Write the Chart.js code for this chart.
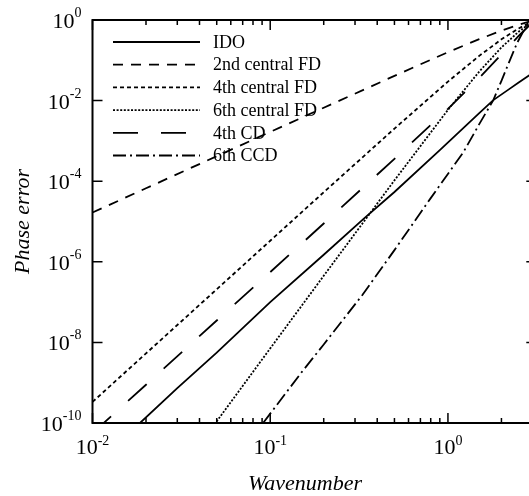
<!DOCTYPE html>
<html>
<head>
<meta charset="utf-8">
<script src="https://cdn.jsdelivr.net/npm/chart.js@4/dist/chart.umd.min.js"></script>
<style>
  html, body { margin: 0; padding: 0; background: #fff; overflow: hidden; }
  #wrap { width: 529px; height: 496px; overflow: hidden; position: relative; }
  canvas { position: absolute; left: 0; top: 0; }
</style>
</head>
<body>
<div id="wrap"><canvas id="chart" width="538" height="496"></canvas></div>
<script>
// wavenumbers for the central FD / compact schemes
var kFD = [0.01, 0.02, 0.05, 0.1, 0.2, 0.5, 1, 1.5, 2, 2.5, 2.8, 3, 3.1416]
var errFD2 = [1.67e-5, 6.67e-5, 4.17e-4, 1.67e-3, 6.65e-3, 4.11e-2, 0.159, 0.335, 0.545, 0.761, 0.880, 0.953, 1.0]
var errFD4 = [3.33e-10, 5.33e-9, 2.08e-7, 3.33e-6, 5.32e-5, 2.02e-3, 2.96e-2, 0.129, 0.331, 0.617, 0.803, 0.922, 1.0]
var errCD4 = [5.6e-11, 8.9e-10, 3.5e-8, 5.55e-7, 8.9e-6, 3.58e-4, 6.25e-3, 3.66e-2, 0.139, 0.401, 0.661, 0.860, 1.0]

var kFD6 = [0.04, 0.05, 0.1, 0.2, 0.5, 1, 1.5, 2, 2.5, 2.8, 3, 3.1416]
var errFD6 = [2.9e-11, 1.1e-10, 7.1e-9, 4.5e-7, 1.05e-4, 5.9e-3, 5.25e-2, 0.209, 0.513, 0.743, 0.897, 1.0]

var kIDO = [0.0185, 0.03, 0.05, 0.1, 0.2, 0.34, 0.5, 0.9, 1.5, 1.8, 2.2, 2.5, 2.83, 3.1416]
var errIDO = [1.0e-10, 7.3e-10, 5.6e-9, 1.0e-7, 1.5e-6, 1.23e-5, 5.4e-5, 5.9e-4, 4.9e-3, 1.03e-2, 1.9e-2, 2.8e-2, 4.1e-2, 5.6e-2]

var kCCD = [0.0912, 0.15, 0.2, 0.33, 0.5, 0.8, 1.22, 1.5, 1.8, 2.0, 2.23, 2.45, 2.83, 3.1416]
var errCCD = [1e-10, 1.8e-9, 8.9e-9, 1.5e-7, 1.95e-6, 3.8e-5, 5.2e-4, 2.6e-3, 1.03e-2, 3.1e-2, 0.10, 0.27, 0.89, 1.0]

var xTickLabels = [[0.01, "-2"], [0.1, "-1"], [1, "0"]]
var yTickLabels = [[1, "0"], [1e-2, "-2"], [1e-4, "-4"], [1e-6, "-6"], [1e-8, "-8"], [1e-10, "-10"]]

function pts(xs, ys) {
    return xs.map((x, i) => ({ x: x, y: ys[i] }))
}

function series(label, xs, ys, dash) {
    return {
        label: label,
        data: pts(xs, ys),
        showLine: true,
        borderColor: "#000",
        borderWidth: 1.8,
        borderDash: dash,
        pointRadius: 0,
        fill: false,
        tension: 0,
        clip: 0
    }
}

const SERIF = "'Liberation Serif', 'DejaVu Serif', serif"

// frame, inward ticks, superscript labels, legend, axis titles
const decorations = {
    id: "decorations",
    afterDraw(chart) {
        const ctx = chart.ctx
        const a = chart.chartArea
        const xs = chart.scales.x, ys = chart.scales.y
        ctx.save()
        ctx.strokeStyle = "#000"
        ctx.fillStyle = "#000"
        ctx.setLineDash([])
        ctx.lineWidth = 2
        ctx.strokeRect(a.left, a.top, a.right - a.left, a.bottom - a.top)

        // x ticks (top and bottom)
        ctx.lineWidth = 1.5
        for (let d = -2; d <= 0; d++) {
            for (let m = 1; m <= 9; m++) {
                const v = m * Math.pow(10, d)
                if (v > xs.max) continue
                const px = xs.getPixelForValue(v)
                const len = m == 1 ? 10 : 5
                ctx.beginPath()
                ctx.moveTo(px, a.bottom); ctx.lineTo(px, a.bottom - len)
                ctx.moveTo(px, a.top); ctx.lineTo(px, a.top + len)
                ctx.stroke()
            }
        }
        // y ticks (left and right)
        yTickLabels.forEach(t => {
            const py = ys.getPixelForValue(t[0])
            ctx.beginPath()
            ctx.moveTo(a.left, py); ctx.lineTo(a.left + 10, py)
            ctx.moveTo(a.right, py); ctx.lineTo(a.right - 10, py)
            ctx.stroke()
        })

        // tick labels
        ctx.textBaseline = "alphabetic"
        xTickLabels.forEach(t => {
            const px = xs.getPixelForValue(t[0])
            ctx.font = "22px " + SERIF
            const w1 = ctx.measureText("10").width
            ctx.font = "14px " + SERIF
            const w2 = ctx.measureText(t[1]).width
            const x0 = px - (w1 + w2) / 2
            ctx.textAlign = "left"
            ctx.font = "22px " + SERIF
            ctx.fillText("10", x0, a.bottom + 31)
            ctx.font = "14px " + SERIF
            ctx.fillText(t[1], x0 + w1, a.bottom + 22)
        })
        yTickLabels.forEach(t => {
            const py = ys.getPixelForValue(t[0])
            ctx.font = "14px " + SERIF
            const w2 = ctx.measureText(t[1]).width
            const xr = a.left - 11
            ctx.textAlign = "left"
            ctx.fillText(t[1], xr - w2, py - 3)
            ctx.font = "22px " + SERIF
            const w1 = ctx.measureText("10").width
            ctx.fillText("10", xr - w2 - w1, py + 8)
        })

        // axis titles
        ctx.font = "italic 22px " + SERIF
        ctx.textAlign = "center"
        ctx.fillText("Wavenumber", 305, 490)
        ctx.save()
        ctx.translate(29, (a.top + a.bottom) / 2)
        ctx.rotate(-Math.PI / 2)
        ctx.fillText("Phase error", 0, 0)
        ctx.restore()

        // legend
        ctx.font = "18px " + SERIF
        ctx.textAlign = "left"
        ctx.textBaseline = "middle"
        chart.data.datasets.forEach((ds, i) => {
            const y = 42 + i * 22.7
            ctx.lineWidth = ds.borderWidth
            ctx.setLineDash(ds.borderDash || [])
            ctx.beginPath()
            ctx.moveTo(113, y); ctx.lineTo(200, y)
            ctx.stroke()
            ctx.setLineDash([])
            ctx.fillText(ds.label, 213, y + 1)
        })
        ctx.restore()
    }
}

new Chart(document.getElementById("chart"), {
    type: "scatter",
    data: {
        datasets: [
            series("IDO", kIDO, errIDO, []),
            series("2nd central FD", kFD, errFD2, [10, 8]),
            series("4th central FD", kFD, errFD4, [4, 3]),
            series("6th central FD", kFD6, errFD6, [2, 1.6]),
            series("4th CD", kFD, errCD4, [25, 23]),
            series("6th CCD", kCCD, errCCD, [13, 4, 2, 4])
        ]
    },
    options: {
        responsive: false,
        devicePixelRatio: 1,
        animation: false,
        layout: { padding: { top: 20, right: 1.7, left: 0, bottom: 0 } },
        plugins: { legend: { display: false }, tooltip: { enabled: false } },
        scales: {
            x: {
                type: "logarithmic", min: 0.01, max: 3.1416,
                ticks: { display: false }, grid: { display: false }, border: { display: false },
                afterFit: s => { s.height = 73 }
            },
            y: {
                type: "logarithmic", min: 1e-10, max: 1,
                ticks: { display: false }, grid: { display: false }, border: { display: false },
                afterFit: s => { s.width = 92.5 }
            }
        }
    },
    plugins: [decorations]
})
</script>
</body>
</html>
